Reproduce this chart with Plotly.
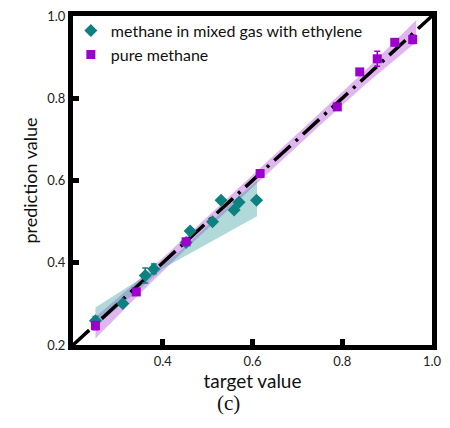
import plotly.graph_objects as go

# ---- data ----
mix_x = [0.250, 0.311, 0.361, 0.380, 0.452, 0.461, 0.511, 0.530, 0.559, 0.570, 0.609]
mix_y = [0.259, 0.301, 0.369, 0.385, 0.449, 0.477, 0.500, 0.552, 0.528, 0.547, 0.552]
mix_err = [0.010, 0.0, 0.018, 0.012, 0.0, 0.0, 0.0, 0.0, 0.0, 0.0, 0.0]

pure_x = [0.250, 0.341, 0.452, 0.617, 0.789, 0.839, 0.878, 0.917, 0.957]
pure_y = [0.247, 0.329, 0.451, 0.617, 0.779, 0.864, 0.896, 0.936, 0.943]
pure_err = [0.010, 0.0, 0.0, 0.0, 0.0, 0.0, 0.018, 0.0, 0.010]

mix_band_x = [0.25, 0.30, 0.35, 0.40, 0.43, 0.45, 0.50, 0.55, 0.61]
mix_band_hi = [0.291, 0.326, 0.360, 0.396, 0.420, 0.441, 0.491, 0.543, 0.600]
mix_band_lo = [0.245, 0.290, 0.337, 0.386, 0.405, 0.417, 0.447, 0.477, 0.513]

pure_band_x = [0.25, 0.35, 0.45, 0.55, 0.65, 0.75, 0.85, 0.965]
pure_band_hi = [0.268, 0.362, 0.462, 0.562, 0.662, 0.764, 0.866, 0.990]
pure_band_lo = [0.216, 0.326, 0.432, 0.534, 0.634, 0.734, 0.832, 0.937]

diag = [0.2, 1.0]

x_ticks = [0.4, 0.6, 0.8, 1.0]
y_ticks = [0.2, 0.4, 0.6, 0.8, 1.0]

TEAL = "#0d8080"
PURPLE = "#9b00cc"

fig = go.Figure()

# purple band
fig.add_trace(go.Scatter(x=pure_band_x + pure_band_x[::-1], y=pure_band_hi + pure_band_lo[::-1],
                         fill="toself", fillcolor="rgba(195,110,225,0.5)", line=dict(width=0),
                         mode="lines", showlegend=False, hoverinfo="skip"))
# teal band
fig.add_trace(go.Scatter(x=mix_band_x + mix_band_x[::-1], y=mix_band_hi + mix_band_lo[::-1],
                         fill="toself", fillcolor="rgba(40,150,150,0.36)", line=dict(width=0),
                         mode="lines", showlegend=False, hoverinfo="skip"))
# diagonal
fig.add_trace(go.Scatter(x=diag, y=diag, mode="lines",
                         line=dict(color="black", width=3.5, dash="22px,7px,3px,7px"),
                         showlegend=False, hoverinfo="skip"))

fig.add_trace(go.Scatter(x=mix_x, y=mix_y, mode="markers", name="methane in mixed gas with ethylene",
                         marker=dict(symbol="diamond", size=10, color=TEAL),
                         error_y=dict(type="data", array=mix_err, color=TEAL, thickness=1.5, width=3)))
fig.add_trace(go.Scatter(x=pure_x, y=pure_y, mode="markers", name="pure methane",
                         marker=dict(symbol="square", size=9, color=PURPLE),
                         error_y=dict(type="data", array=pure_err, color=PURPLE, thickness=1.5, width=3)))

axis_common = dict(showline=True, linecolor="black", linewidth=5, mirror=True,
                   ticks="inside", ticklen=6, tickwidth=5, tickcolor="black",
                   showgrid=False, zeroline=False,
                   tickfont=dict(family="Lato", size=13, color="#222"))

fig.update_xaxes(range=[0.2, 1.0], tickvals=x_ticks, ticktext=[f"{v:.1f}" for v in x_ticks],
                 title=dict(text="target value", font=dict(family="Lato", size=19, color="#111"), standoff=0),
                 **axis_common)
fig.update_yaxes(range=[0.2, 1.0], tickvals=y_ticks, ticktext=[f"{v:.1f}" for v in y_ticks],
                 title=dict(text="prediction value", font=dict(family="Lato", size=18, color="#111"), standoff=6),
                 **axis_common)

fig.add_annotation(text="(c)", x=0.432, y=-0.175, xref="paper", yref="paper", showarrow=False,
                   font=dict(family="Liberation Serif", size=21, color="#111"), xanchor="center", yanchor="middle")

fig.update_layout(width=450, height=428, margin=dict(l=73, r=13, t=8, b=83),
                  plot_bgcolor="white", paper_bgcolor="white",
                  legend=dict(x=-0.006, y=1.007, xanchor="left", yanchor="top", bgcolor="rgba(0,0,0,0)",
                              font=dict(family="Lato", size=16, color="#111"), itemwidth=30))

fig.write_html("out.html")
